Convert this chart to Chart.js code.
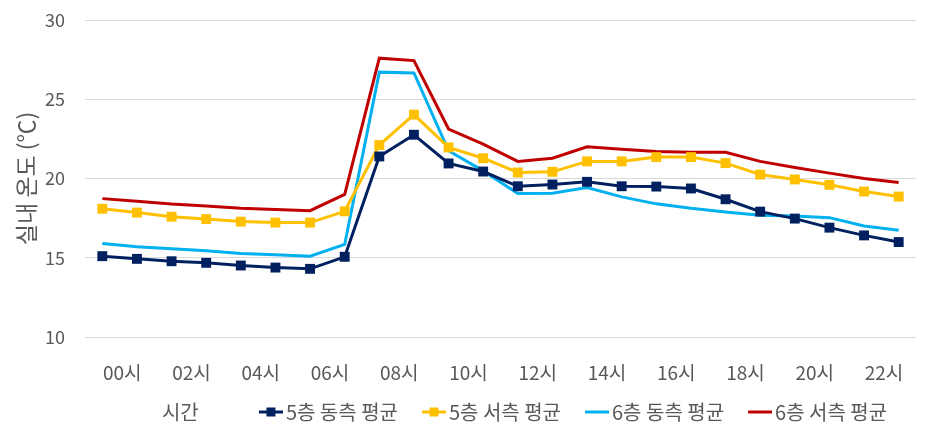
<!DOCTYPE html>
<html>
<head>
<meta charset="utf-8">
<script src="https://cdn.jsdelivr.net/npm/chart.js@4"></script>
<style>
  html, body { margin: 0; padding: 0; background: #fff; }
  #wrap { width: 950px; height: 432px; }
</style>
</head>
<body>
<div id="wrap"><canvas id="chart" width="950" height="432"></canvas></div>
<script>
const hours = ['00시','01시','02시','03시','04시','05시','06시','07시','08시','09시','10시','11시',
  '12시','13시','14시','15시','16시','17시','18시','19시','20시','21시','22시','23시'];

const east5 = [15.1, 14.93, 14.78, 14.68, 14.51, 14.38, 14.3, 15.06, 21.39, 22.76, 20.95, 20.44,
  19.51, 19.62, 19.79, 19.51, 19.49, 19.37, 18.69, 17.91, 17.47, 16.9, 16.41, 15.99];
const west5 = [18.09, 17.85, 17.59, 17.44, 17.28, 17.22, 17.22, 17.93, 22.11, 24.03, 21.96, 21.28,
  20.38, 20.42, 21.08, 21.08, 21.35, 21.35, 20.97, 20.25, 19.94, 19.6, 19.18, 18.86];
const east6 = [15.9, 15.7, 15.57, 15.44, 15.27, 15.19, 15.1, 15.84, 26.71, 26.66, 21.75, 20.48,
  19.05, 19.07, 19.43, 18.84, 18.4, 18.12, 17.89, 17.68, 17.64, 17.53, 17.0, 16.73];
const west6 = [18.73, 18.56, 18.39, 18.27, 18.12, 18.04, 17.97, 19.0, 27.59, 27.44, 23.12, 22.17,
  21.08, 21.28, 22.0, 21.85, 21.7, 21.65, 21.65, 21.08, 20.7, 20.34, 20.0, 19.75];

const seriesNames = ['5층 동측 평균', '5층 서측 평균', '6층 동측 평균', '6층 서측 평균'];
const seriesColors = ['#002060', '#FFC000', '#00B0F0', '#C00000'];
const seriesMarkers = [true, true, false, false];

const FONT = '"Noto Sans CJK KR", "Noto Sans", sans-serif';
const GREY = '#595959';

// legend swatch: short line (right part of the image), square marker if the series has one
function swatch(color, marker) {
  const c = document.createElement('canvas');
  c.width = 45; c.height = 12;
  const g = c.getContext('2d');
  g.strokeStyle = color;
  g.lineWidth = 3;
  g.beginPath(); g.moveTo(21, 6); g.lineTo(45, 6); g.stroke();
  if (marker) {
    g.fillStyle = color;
    g.fillRect(28.5, 1.5, 9, 9);
  }
  return c;
}

const legendShift = {
  id: 'legendShift',
  afterLayout(chart) {
    const lg = chart.legend;
    lg.left += 108;
    lg.right += 108;
  },
  afterDraw(chart) {
    const lg = chart.legend;
    if (!lg.legendHitBoxes || !lg.legendHitBoxes.length) return;
    const hb = lg.legendHitBoxes[0];
    const ctx = chart.ctx;
    ctx.save();
    ctx.font = '20px ' + FONT;
    ctx.fillStyle = GREY;
    ctx.textAlign = 'left';
    ctx.textBaseline = 'middle';
    ctx.fillText('시간', hb.left - 83, hb.top + hb.height / 2);
    ctx.restore();
  }
};

const datasets = [east5, west5, east6, west6].map((vals, i) => ({
  label: seriesNames[i],
  data: vals,
  borderColor: seriesColors[i],
  backgroundColor: seriesColors[i],
  borderWidth: 3,
  tension: 0,
  pointStyle: seriesMarkers[i] ? 'rect' : 'circle',
  pointRadius: seriesMarkers[i] ? 7 : 0,
  pointBorderWidth: 0,
  legendImage: swatch(seriesColors[i], seriesMarkers[i])
}));

new Chart(document.getElementById('chart'), {
  type: 'line',
  data: { labels: hours, datasets: datasets },
  plugins: [legendShift],
  options: {
    responsive: false,
    animation: false,
    layout: { padding: { top: 20, right: 34, bottom: 0, left: 0 } },
    plugins: {
      tooltip: { enabled: false },
      legend: {
        position: 'bottom',
        labels: {
          usePointStyle: true,
          pointStyleWidth: 31,
          padding: 10,
          color: GREY,
          font: { family: FONT, size: 20 },
          generateLabels(chart) {
            return chart.data.datasets.map((ds, i) => ({
              text: ds.label,
              pointStyle: ds.legendImage,
              fillStyle: ds.borderColor,
              strokeStyle: ds.borderColor,
              lineWidth: 0,
              fontColor: GREY,
              datasetIndex: i,
              hidden: false
            }));
          }
        }
      }
    },
    scales: {
      x: {
        offset: true,
        afterFit(scale) { scale.height = 55; },
        grid: { display: false, drawTicks: false },
        border: { display: false },
        ticks: {
          autoSkip: false,
          maxRotation: 0,
          padding: 24,
          labelOffset: 20,
          color: GREY,
          font: { family: FONT, size: 19 },
          callback(v, i) { return i % 2 === 0 ? hours[i] : ''; }
        }
      },
      y: {
        min: 10,
        max: 30,
        afterFit(scale) { scale.width = 85; },
        grid: { color: '#D9D9D9', lineWidth: 1, drawTicks: true, tickLength: 20, tickColor: 'rgba(0,0,0,0)' },
        border: { display: false },
        ticks: {
          stepSize: 5,
          padding: 0,
          color: GREY,
          font: { family: FONT, size: 18 }
        },
        title: {
          display: true,
          text: '실내 온도 (℃)',
          color: GREY,
          font: { family: FONT, size: 23 },
          padding: { top: 12, bottom: 0 }
        }
      }
    }
  }
});
</script>
</body>
</html>
